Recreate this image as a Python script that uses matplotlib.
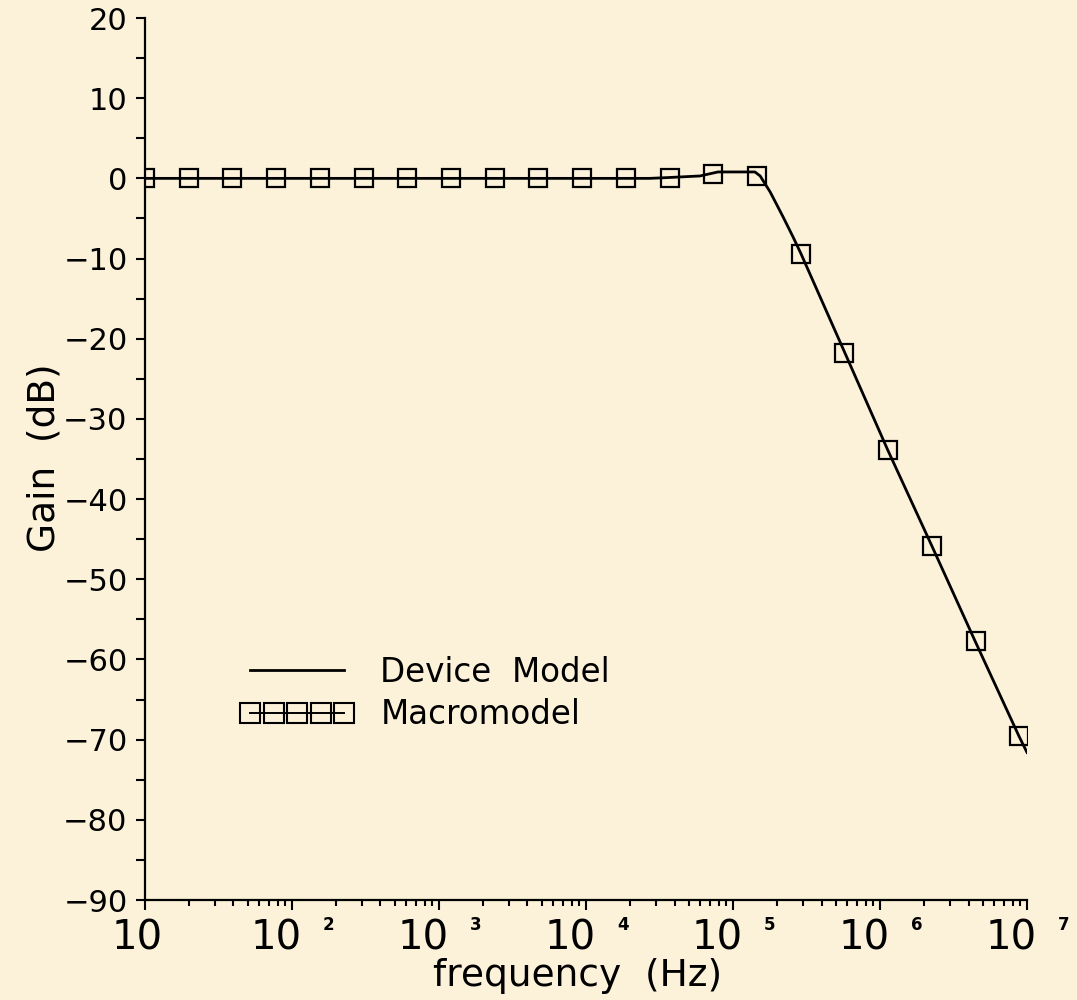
import matplotlib
matplotlib.use("Agg")
import matplotlib.pyplot as plt
import numpy as np
from matplotlib.lines import Line2D
from matplotlib.ticker import MultipleLocator, LogLocator, NullFormatter
from matplotlib.transforms import blended_transform_factory, offset_copy

# device model response (Hz, dB)
freq_device = [10, 2.72e4, 3.61e4, 5.97e4, 7.9e4, 1.41e5, 1.53e5, 1.79e5, 2.19e5,
               2.56e5, 2.90e5, 5.78e5, 1.13e6, 2.26e6, 4.43e6, 8.83e6, 1.0e7]
gain_device = [0, 0, 0.1, 0.3, 0.8, 0.8, 0.3, -1.7, -4.8,
               -7.3, -9.4, -21.8, -33.9, -45.9, -57.7, -69.6, -71.6]

# macromodel samples
freq_macro = [10, 19.83, 39.3, 78.0, 154.7, 306.8, 608.4, 1206, 2392, 4744, 9408,
              18656, 36996, 73365, 145490, 288514, 572140, 1.1346e6, 2.25e6,
              4.462e6, 8.85e6]
gain_macro = [0, 0, 0, 0, 0, 0, 0, 0, 0, 0, 0,
              0, 0.1, 0.5, 0.25, -9.4, -21.8, -33.9, -45.9, -57.7, -69.6]

decades = [10, 1e2, 1e3, 1e4, 1e5, 1e6, 1e7]

bg = "#FCF2DA"
fig = plt.figure(figsize=(10.77, 10), dpi=100, facecolor=bg)
ax = fig.add_axes([0.1346, 0.1, 0.8190, 0.882], facecolor=bg)

ax.plot(freq_device, gain_device, color="black", lw=2.0)
ax.plot(freq_macro, gain_macro, linestyle="none", marker="s", markersize=13,
        markerfacecolor="none", markeredgecolor="black", markeredgewidth=1.6)

ax.set_xscale("log")
ax.set_xlim(10, 1e7)
ax.set_ylim(-90, 20)

for s in ["top", "right"]:
    ax.spines[s].set_visible(False)
for s in ["left", "bottom"]:
    ax.spines[s].set_linewidth(1.6)

ax.set_yticks(np.arange(-90, 21, 10))
ax.yaxis.set_minor_locator(MultipleLocator(5))
ax.tick_params(axis="y", which="both", direction="out", length=6.5, width=1.5,
               labelsize=22, pad=6)

ax.set_xticks(decades)
ax.xaxis.set_minor_locator(LogLocator(base=10, subs=np.arange(2, 10), numticks=20))
ax.xaxis.set_minor_formatter(NullFormatter())
ax.set_xticklabels([""] * len(decades))
ax.tick_params(axis="x", which="major", direction="out", length=7, width=1.5)
ax.tick_params(axis="x", which="minor", direction="out", length=4, width=1.5)

# decade labels drawn as "10" with a small raised exponent
btrans = blended_transform_factory(ax.transData, ax.transAxes)
for t in decades:
    n = int(round(np.log10(t)))
    if n == 1:
        tr = offset_copy(btrans, fig=fig, x=18, y=-19, units="dots")
        ax.text(t, 0, "10", transform=tr, ha="right", va="top", fontsize=29)
        continue
    tr = offset_copy(btrans, fig=fig, x=10, y=-19, units="dots")
    ax.text(t, 0, "10", transform=tr, ha="right", va="top", fontsize=29)
    tr = offset_copy(btrans, fig=fig, x=31, y=-16, units="dots")
    ax.text(t, 0, str(n), transform=tr, ha="left", va="top", fontsize=12,
            fontweight="bold")

fig.text(578 / 1077, 1 - 976 / 1000, "frequency  (Hz)", ha="center", va="center",
         fontsize=27)
fig.text(45 / 1077, 1 - 458 / 1000, "Gain  (dB)", ha="center", va="center",
         rotation=90, fontsize=27)

handles = [
    Line2D([], [], color="black", lw=2.0),
    Line2D([], [], color="black", lw=1.4, marker="s", markersize=14,
           markerfacecolor="none", markeredgewidth=1.5),
]
leg = ax.legend(handles, ["Device  Model", "Macromodel"], loc="upper left",
                bbox_to_anchor=(0.093, 0.292), frameon=False, fontsize=23.5,
                handlelength=3.5, handletextpad=0.8, labelspacing=0.3,
                numpoints=5, borderaxespad=0)

fig.savefig("out.png", dpi=100, facecolor=bg)
